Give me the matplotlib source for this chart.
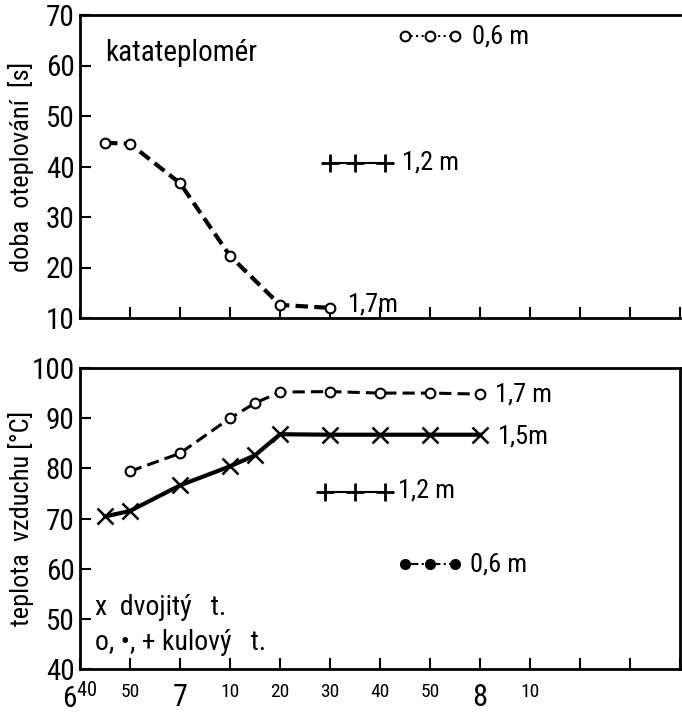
import matplotlib
matplotlib.use("Agg")
import matplotlib.pyplot as plt
from matplotlib import font_manager as fm

fam = 'DejaVu Sans'
for cand in ['Liberation Sans Narrow', 'DejaVu Sans Condensed', 'Roboto Condensed']:
    try:
        fm.findfont(fm.FontProperties(family=cand), fallback_to_default=False)
        fam = cand
        break
    except Exception:
        pass
plt.rcParams['font.family'] = [fam, 'DejaVu Sans']
plt.rcParams['font.stretch'] = 'condensed'
plt.rcParams['mathtext.fontset'] = 'custom'
plt.rcParams['mathtext.rm'] = fam

# ---- data (time in minutes after midnight) ----
top_17_t = [405, 410, 420, 430, 440, 450]
top_17_v = [44.7, 44.5, 36.7, 22.3, 12.6, 12.0]
top_06_t = [465, 470, 475]
top_06_v = [65.8, 65.8, 65.8]
top_12_t = [450, 455, 461]
top_12_v = [40.7, 40.7, 40.7]

bot_17_t = [410, 420, 430, 435, 440, 450, 460, 470, 480]
bot_17_v = [79.4, 83.0, 90.0, 93.0, 95.2, 95.3, 95.0, 95.0, 94.8]
bot_15_t = [405, 410, 420, 430, 435, 440, 450, 460, 470, 480]
bot_15_v = [70.4, 71.5, 76.6, 80.4, 82.6, 86.8, 86.7, 86.7, 86.7, 86.7]
bot_12_t = [449, 455, 461]
bot_12_v = [75.2, 75.2, 75.2]
bot_06_t = [465, 470, 475]
bot_06_v = [61.0, 61.0, 61.0]

xticks = list(range(400, 521, 10))
xlabels = [r'$\mathrm{6}^{\mathrm{40}}$', '50', '7', '10', '20', '30', '40', '50', '8', '10', '', '', '']
xlabel_sizes = [21, 14, 22, 14, 14, 14, 14, 14, 22, 14, 14, 14, 14]

fig = plt.figure(figsize=(6.82, 7.14), dpi=100)
ax1 = fig.add_axes([80/682, 1-318/714, 600/682, 303/714])
ax2 = fig.add_axes([80/682, 1-669/714, 600/682, 301/714])

k = 'black'
for ax in (ax1, ax2):
    ax.set_xlim(400, 520)
    ax.set_xticks(xticks)
    ax.tick_params(direction='in', length=8, width=1.5, colors=k, labelsize=21, pad=4)
    ax.tick_params(axis='x', pad=10)
    for s in ax.spines.values():
        s.set_linewidth(2)

# ---- top panel ----
ax1.set_ylim(10, 70)
ax1.set_yticks(range(10, 71, 10))
ax1.set_xticklabels([])
ax1.spines['right'].set_visible(False)
ax1.plot(top_17_t, top_17_v, color=k, lw=3, ls=(0, (3, 1.5)), marker='o', ms=7,
         mfc='white', mec=k, mew=1.5)
ax1.plot(top_06_t, top_06_v, color=k, lw=1.5, ls=':', marker='o', ms=7,
         mfc='white', mec=k, mew=1.5)
ax1.plot(top_12_t, top_12_v, color=k, lw=1.5, ls='-', marker='+', ms=13, mew=2)
ax1.text(453.5, 12.6, '1,7m', fontsize=19, ha='left', va='center')
ax1.text(478.5, 65.8, '0,6 m', fontsize=19, ha='left', va='center')
ax1.text(464.5, 40.7, '1,2 m', fontsize=19, ha='left', va='center')
ax1.text(405, 62.5, 'katateplomér', fontsize=21, ha='left', va='center')
ax1.set_ylabel('doba  oteplování  [s]', fontsize=19)
ax1.yaxis.set_label_coords(-0.077, 0.5)

# ---- bottom panel ----
ax2.set_ylim(40, 100)
ax2.set_yticks(range(40, 101, 10))
ax2.set_xticklabels(xlabels)
for lab, sz in zip(ax2.get_xticklabels(), xlabel_sizes):
    lab.set_fontsize(sz)
ax2.plot(bot_17_t, bot_17_v, color=k, lw=2.2, ls=(0, (4, 2)), marker='o', ms=7,
         mfc='white', mec=k, mew=1.5)
ax2.plot(bot_15_t, bot_15_v, color=k, lw=3, ls='-', marker='x', ms=12, mew=1.8)
ax2.plot(bot_12_t, bot_12_v, color=k, lw=1.5, ls='-', marker='+', ms=13, mew=2)
ax2.plot(bot_06_t, bot_06_v, color=k, lw=1.5, ls='-.', marker='o', ms=7,
         mfc=k, mec=k)
ax2.text(483, 94.7, '1,7 m', fontsize=19, ha='left', va='center')
ax2.text(483.5, 86.3, '1,5m', fontsize=19, ha='left', va='center')
ax2.text(463.5, 75.5, '1,2 m', fontsize=19, ha='left', va='center')
ax2.text(478, 60.8, '0,6 m', fontsize=19, ha='left', va='center')
ax2.text(403, 52.3, 'x  dvojitý   t.', fontsize=20, ha='left', va='center')
ax2.text(403, 45.3, 'o, •, + kulový   t.', fontsize=20, ha='left', va='center')
ax2.set_ylabel('teplota  vzduchu [°C]', fontsize=19)
ax2.yaxis.set_label_coords(-0.077, 0.5)

fig.savefig('out.png', dpi=100)
